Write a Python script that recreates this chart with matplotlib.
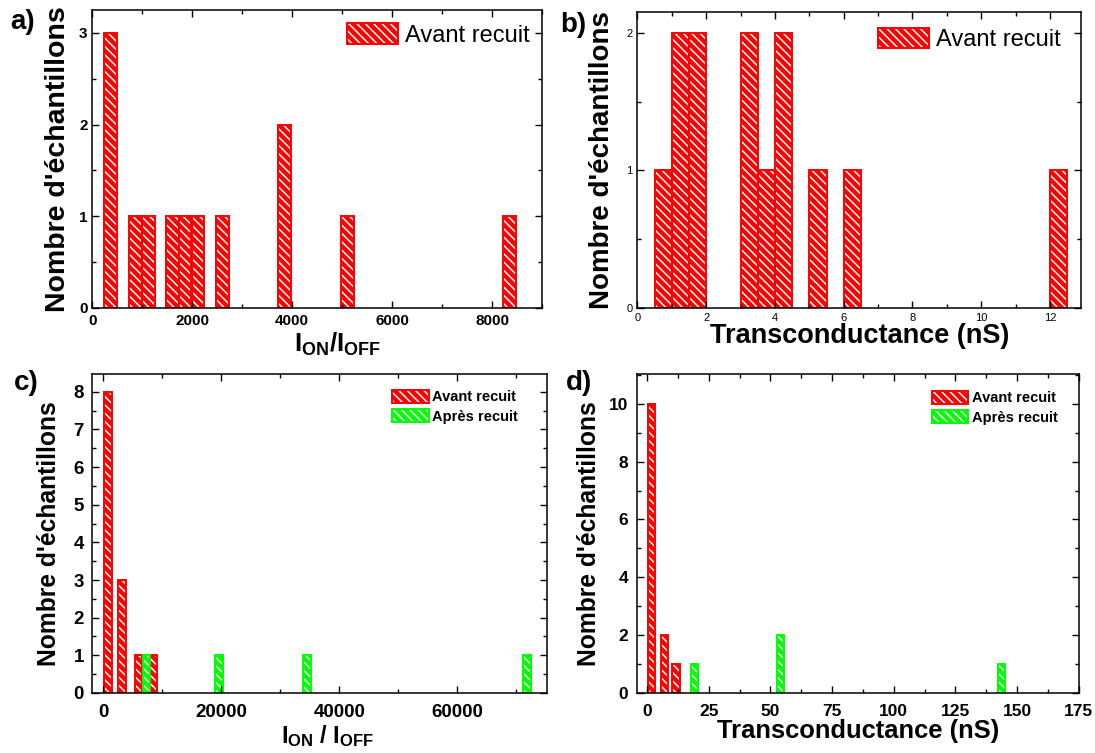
import numpy as np
import matplotlib
matplotlib.use('Agg')
import matplotlib.pyplot as plt
from matplotlib.patches import Patch
from matplotlib.ticker import MultipleLocator

plt.rcParams['font.family'] = 'Liberation Sans'
plt.rcParams['mathtext.fontset'] = 'custom'
plt.rcParams['mathtext.rm'] = 'Liberation Sans:bold'
plt.rcParams['mathtext.it'] = 'Liberation Sans:bold'
plt.rcParams['mathtext.bf'] = 'Liberation Sans:bold'
plt.rcParams['hatch.linewidth'] = 1.1

# a) Ion/Ioff avant recuit
a_x = [358, 866, 1122, 1600, 1860, 2110, 2600, 3850, 5110, 8350]
a_n = [3, 1, 1, 1, 1, 1, 1, 2, 1, 1]
a_w = 265

# b) transconductance avant recuit (nS)
b_x = [0.75, 1.25, 1.75, 3.25, 3.75, 4.25, 5.25, 6.25, 12.25]
b_n = [1, 2, 2, 2, 1, 2, 1, 1, 1]
b_w = 0.5

# c) Ion/Ioff avant / apres recuit
c_av_x = [830, 3220, 6000, 8500]
c_av_n = [8, 3, 1, 1]
c_ap_x = [7350, 19600, 34550, 71760]
c_ap_n = [1, 1, 1, 1]
c_w = 1300

# d) transconductance avant / apres recuit (nS)
d_av_x = [1.8, 7.0, 11.7]
d_av_n = [10, 2, 1]
d_ap_x = [19.2, 54.0, 143.7]
d_ap_n = [1, 2, 1]
d_w = 3.0

RED = '#ff0000'
GREEN = '#00ff00'
HATCH = '\\\\\\\\'
ylab = "Nombre d'échantillons"


def hbars(ax, x, n, w, col):
    ax.bar(x, n, width=w, color=col, edgecolor='white', hatch=HATCH, linewidth=0)
    ax.bar(x, n, width=w, fill=False, edgecolor=col, linewidth=1.4)
    return (Patch(facecolor=col, edgecolor='white', hatch=HATCH, linewidth=0),
            Patch(fill=False, edgecolor=col, linewidth=1.4))


def style(ax, size, bold):
    ax.tick_params(which='both', direction='in', top=True, right=True,
                   labelsize=size, width=1)
    ax.tick_params(which='major', length=5)
    ax.tick_params(which='minor', length=3)
    for lab in ax.get_xticklabels() + ax.get_yticklabels():
        lab.set_fontweight('bold' if bold else 'normal')
    for s in ax.spines.values():
        s.set_linewidth(1.1)


fig = plt.figure(figsize=(10.95, 7.53), dpi=100)

# ---- a)
ax1 = fig.add_axes([0.0844, 0.591, 0.4106, 0.3958])
h = hbars(ax1, a_x, a_n, a_w, RED)
ax1.set_xlim(0, 9000)
ax1.set_ylim(0, 3.25)
ax1.xaxis.set_major_locator(MultipleLocator(2000))
ax1.xaxis.set_minor_locator(MultipleLocator(1000))
ax1.yaxis.set_major_locator(MultipleLocator(1))
ax1.yaxis.set_minor_locator(MultipleLocator(0.5))
style(ax1, 11, True)
ax1.tick_params(axis='x', pad=4)
ax1.set_ylabel(ylab, fontsize=20.5, fontweight='bold', labelpad=6)
ax1.set_xlabel(r'I$_{\mathrm{ON}}$/I$_{\mathrm{OFF}}$', fontsize=18.5, fontweight='bold', labelpad=5)
ax1.xaxis.set_label_coords(0.545, -0.075)
ax1.legend([h], ['Avant recuit'], loc='upper right', bbox_to_anchor=(0.994, 0.987),
           frameon=False, fontsize=17, handlelength=2.15, handleheight=0.95,
           handletextpad=0.3, borderaxespad=0)
fig.text(0.0097, 0.962, 'a)', fontsize=20, fontweight='bold')

# ---- b)
ax2 = fig.add_axes([0.5821, 0.591, 0.4051, 0.393])
h = hbars(ax2, b_x, b_n, b_w, RED)
ax2.set_xlim(0, 12.9)
ax2.set_ylim(0, 2.15)
ax2.xaxis.set_major_locator(MultipleLocator(2))
ax2.xaxis.set_minor_locator(MultipleLocator(1))
ax2.yaxis.set_major_locator(MultipleLocator(1))
ax2.yaxis.set_minor_locator(MultipleLocator(0.5))
style(ax2, 8, False)
ax2.set_ylabel(ylab, fontsize=20, fontweight='bold', labelpad=8)
ax2.set_xlabel('Transconductance (nS)', fontsize=19.5, fontweight='bold', labelpad=0)
ax2.legend([h], ['Avant recuit'], loc='upper right', bbox_to_anchor=(0.976, 0.978),
           frameon=False, fontsize=17, handlelength=2.15, handleheight=0.95,
           handletextpad=0.3, borderaxespad=0)
fig.text(0.5115, 0.958, 'b)', fontsize=20, fontweight='bold')

# ---- c)
ax3 = fig.add_axes([0.0844, 0.0797, 0.4147, 0.4236])
h1 = hbars(ax3, c_av_x, c_av_n, c_w, RED)
h2 = hbars(ax3, c_ap_x, c_ap_n, c_w, GREEN)
ax3.set_xlim(-1800, 75100)
ax3.set_ylim(0, 8.47)
ax3.xaxis.set_major_locator(MultipleLocator(20000))
ax3.xaxis.set_minor_locator(MultipleLocator(10000))
ax3.yaxis.set_major_locator(MultipleLocator(1))
ax3.yaxis.set_minor_locator(MultipleLocator(0.5))
style(ax3, 13.5, True)
ax3.tick_params(axis='x', pad=8)
ax3.tick_params(axis='y', pad=6)
ax3.set_ylabel(ylab, fontsize=17.7, fontweight='bold', labelpad=9)
ax3.set_xlabel(r'I$_{\mathrm{ON}}$ / I$_{\mathrm{OFF}}$', fontsize=17, fontweight='bold', labelpad=4)
ax3.xaxis.set_label_coords(0.518, -0.095)
ax3.legend([h1, h2], ['Avant recuit', 'Après recuit'], loc='upper right',
           bbox_to_anchor=(0.95, 0.969), frameon=False,
           prop={'weight': 'bold', 'size': 10.5}, handlelength=2.5, handleheight=1.0,
           handletextpad=0.25, labelspacing=0.35, borderaxespad=0)
fig.text(0.0128, 0.482, 'c)', fontsize=20, fontweight='bold')

# ---- d)
ax4 = fig.add_axes([0.5815, 0.0797, 0.4037, 0.4236])
h1 = hbars(ax4, d_av_x, d_av_n, d_w, RED)
h2 = hbars(ax4, d_ap_x, d_ap_n, d_w, GREEN)
ax4.set_xlim(-4.2, 175)
ax4.set_ylim(0, 11.03)
ax4.xaxis.set_major_locator(MultipleLocator(25))
ax4.xaxis.set_minor_locator(MultipleLocator(12.5))
ax4.yaxis.set_major_locator(MultipleLocator(2))
ax4.yaxis.set_minor_locator(MultipleLocator(1))
style(ax4, 12.5, True)
ax4.tick_params(axis='x', pad=8)
ax4.tick_params(axis='y', pad=6)
ax4.set_ylabel(ylab, fontsize=17.7, fontweight='bold', labelpad=6)
ax4.set_xlabel('Transconductance (nS)', fontsize=18.4, fontweight='bold', labelpad=0)
ax4.legend([h1, h2], ['Avant recuit', 'Après recuit'], loc='upper right',
           bbox_to_anchor=(0.965, 0.966), frameon=False,
           prop={'weight': 'bold', 'size': 10.5}, handlelength=2.5, handleheight=1.0,
           handletextpad=0.25, labelspacing=0.35, borderaxespad=0)
fig.text(0.517, 0.482, 'd)', fontsize=20, fontweight='bold')

fig.savefig('out.png', dpi=100)
